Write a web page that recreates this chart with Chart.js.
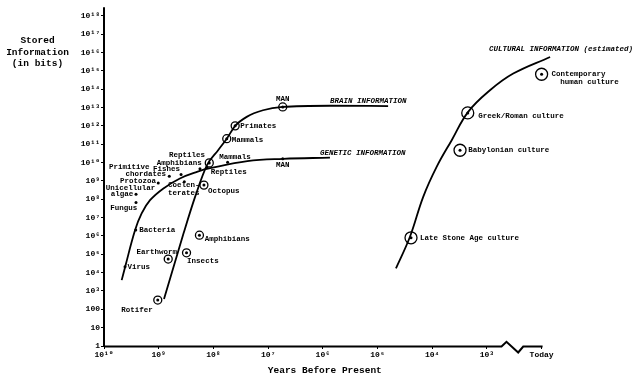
<!DOCTYPE html>
<html>
<head>
<meta charset="utf-8">
<script src="https://cdn.jsdelivr.net/npm/chart.js@4.4.1/dist/chart.umd.min.js"></script>
<style>
html,body{margin:0;padding:0;background:#fff;}
#c{display:block;}
</style>
</head>
<body>
<canvas id="c" width="640" height="380"></canvas>
<script>
// ---------------- DATA ----------------
// Curves (years before present, stored information in bits)
const geneticYears = [4.75e9, 4.1e9, 2.7e9, 2.05e9, 1.44e9, 8.2e8, 4.1e8, 2.0e8, 1.15e8, 2.4e7, 5.3e6, 7.4e5];
const geneticBits  = [3.9e3, 2.1e4, 2.1e6, 1.7e7, 8.9e7, 3.9e8, 1.36e9, 3.1e9, 4.9e9, 1.2e10, 1.6e10, 1.85e10];

const brainYears = [8.0e8, 3.5e8, 2.17e8, 1.31e8, 8.2e7, 5.7e7, 4.0e7, 2.46e7, 1.24e7, 5.4e6, 7.4e5, 6.4e4];
const brainBits  = [363, 1.43e6, 1.3e8, 7.2e9, 4.7e10, 2.0e11, 1.0e12, 3.1e12, 7.1e12, 1.08e13, 1.25e13, 1.2e13];

const culturalYears = [4.6e4, 2.55e4, 1.46e4, 8.3e3, 4.4e3, 2.2e3, 880, 330, 70];
const culturalBits  = [1.7e4, 9.0e5, 1.35e8, 5.8e9, 1.66e11, 5.8e12, 8.7e13, 7.1e14, 5.7e15];

// Circled data points
const circledNames = ['Rotifer', 'Earthworm', 'Insects', 'Amphibians', 'Octopus', 'Reptiles', 'Mammals', 'Primates', 'MAN',
                      'Late Stone Age culture', 'Babylonian culture', 'Greek/Roman culture', 'Contemporary human culture'];
const circledYears = [1.04e9, 6.7e8, 3.1e8, 1.8e8, 1.49e8, 1.19e8, 5.7e7, 4.0e7, 5.4e6, 2.44e4, 3.1e3, 2.24e3, 100];
const circledBits  = [320, 5.5e4, 1.2e5, 1.1e6, 5.9e8, 9.6e9, 2.0e11, 1.0e12, 1.08e13, 7.9e5, 4.7e10, 5.1e12, 6.5e14];

// Plain dot data points (genetic information)
const dotNames = ['Virus', 'Bacteria', 'Fungus', 'Unicellular algae', 'Protozoa', 'Primitive chordates', 'Fishes',
                  'Coelenterates', 'Amphibians', 'Reptiles', 'Mammals', 'MAN'];
const dotYears = [4.13e9, 2.63e9, 2.6e9, 2.6e9, 1.02e9, 6.4e8, 3.9e8, 3.4e8, 1.76e8, 1.31e8, 5.5e7, 5.4e6];
const dotBits  = [2.1e4, 2.1e6, 6.7e7, 1.9e8, 7.8e8, 1.8e9, 2.25e9, 8.9e8, 4.6e9, 5.3e9, 1.05e10, 1.63e10];

// Tick values and labels
const xTickValues = [1e10, 1e9, 1e8, 1e7, 1e6, 1e5, 1e4, 1e3, 100];
const xTickLabels = ['10\u00b9\u2070', '10\u2079', '10\u2078', '10\u2077', '10\u2076', '10\u2075', '10\u2074', '10\u00b3', 'Today'];
const yTickValues = [1, 10, 100, 1e3, 1e4, 1e5, 1e6, 1e7, 1e8, 1e9, 1e10, 1e11, 1e12, 1e13, 1e14, 1e15, 1e16, 1e17, 1e18];
const yTickLabels = ['1', '10', '100', '10\u00b3', '10\u2074', '10\u2075', '10\u2076', '10\u2077', '10\u2078', '10\u2079',
                     '10\u00b9\u2070', '10\u00b9\u00b9', '10\u00b9\u00b2', '10\u00b9\u00b3', '10\u00b9\u2074', '10\u00b9\u2075',
                     '10\u00b9\u2076', '10\u00b9\u2077', '10\u00b9\u2078'];

const seriesNames = ['GENETIC INFORMATION', 'BRAIN INFORMATION', 'CULTURAL INFORMATION (estimated)'];
const xTitle = 'Years Before Present';
const yTitle = ['Stored', 'Information', '(in bits)'];

// ---------------- LAYOUT / STYLE ----------------
const FONT = "'Liberation Mono', 'DejaVu Sans Mono', monospace";
const circleRadius = [4, 4, 4, 4, 4, 4, 4, 4, 4, 6, 6, 6, 6];
const circledLabelLayout = [
  [['Rotifer', -20.7, 10, 'center']],
  [['Earthworm', -31.8, -6.7, 'left']],
  [['Insects', 0.6, 8.6, 'left']],
  [['Amphibians', 5.4, 4.3, 'left']],
  [['Octopus', 4, 5.7, 'left']],
  [['Reptiles', -4.3, -7.7, 'right']],
  [['Mammals', 5, 1, 'left']],
  [['Primates', 5, 0.3, 'left']],
  [['MAN', 0, -7.6, 'center']],
  [['Late Stone Age culture', 9, 0, 'left']],
  [['Babylonian culture', 8.3, 0, 'left']],
  [['Greek/Roman culture', 10.6, 3.3, 'left']],
  [['Contemporary', 10, 0, 'left'], ['human culture', 18.7, 8.3, 'left']]
];
const dotLabelLayout = [
  [['Virus', 2.5, 0, 'left']],
  [['Bacteria', 3.5, 0, 'left']],
  [['Fungus', 1.3, 5.4, 'right']],
  [['Unicellular', -5.5, -6.3, 'center'], ['algae', -2.7, 0, 'right']],
  [['Protozoa', -2.3, -2, 'right']],
  [['Primitive', -40.1, -8.7, 'center'], ['chordates', -3.3, -2, 'right']],
  [['Fishes', -1, -5, 'right']],
  [['Coelen-', -0.5, 3.5, 'center'], ['terates', -0.5, 11, 'center']],
  [['Amphibians', 1.7, -5.2, 'right']],
  [['Reptiles', 3.7, 4.8, 'left']],
  [['Mammals', -8.4, -4.7, 'left']],
  [['MAN', 0, 6.5, 'center']]
];
// series label offsets relative to last point of each curve
const seriesLabelLayout = [[-10, -4.8], [-58, -5.3], [-61, -7.7]];

const zip = (xs, ys) => xs.map((x, i) => ({x: x, y: ys[i]}));

const smoothLine = {
  showLine: true, borderColor: '#000', borderWidth: 1.8, pointRadius: 0,
  tension: 0.4, clip: false, fill: false
};
const monoLine = Object.assign({}, smoothLine, {cubicInterpolationMode: 'monotone'});

const overlayPlugin = {
  id: 'overlay',
  afterDatasetsDraw(chart) {
    const ctx = chart.ctx;
    const xs = chart.scales.x, ys = chart.scales.y;
    const ca = chart.chartArea;
    ctx.save();
    ctx.fillStyle = '#000';
    ctx.strokeStyle = '#000';

    // Axis lines (with break before "Today")
    ctx.lineWidth = 2;
    ctx.beginPath();
    ctx.moveTo(ca.left, ca.top);
    ctx.lineTo(ca.left, ca.bottom + 1);
    ctx.stroke();
    const p3 = xs.getPixelForValue(1e3), pT = xs.getPixelForValue(100);
    const w = pT - p3, y0 = ca.bottom + 0.5;
    ctx.beginPath();
    ctx.moveTo(ca.left, y0);
    ctx.lineTo(p3 + 0.267 * w, y0);
    ctx.lineTo(p3 + 0.358 * w, y0 - 4.7);
    ctx.lineTo(p3 + 0.572 * w, y0 + 6);
    ctx.lineTo(p3 + 0.664 * w, y0);
    ctx.lineTo(pT + 1, y0);
    ctx.stroke();

    // Point labels
    ctx.font = 'bold 7.5px ' + FONT;
    ctx.textBaseline = 'middle';
    const drawLabels = (years, bits, layout) => {
      years.forEach((yr, i) => {
        const px = xs.getPixelForValue(yr), py = ys.getPixelForValue(bits[i]);
        layout[i].forEach(([t, dx, dy, al]) => {
          ctx.textAlign = al;
          ctx.fillText(t, px + dx, py + dy);
        });
      });
    };
    drawLabels(circledYears, circledBits, circledLabelLayout);
    drawLabels(dotYears, dotBits, dotLabelLayout);

    // Series labels
    ctx.font = 'italic bold 7.5px ' + FONT;
    ctx.textAlign = 'left';
    const ends = [
      [geneticYears[geneticYears.length - 1], geneticBits[geneticBits.length - 1]],
      [brainYears[brainYears.length - 1], brainBits[brainBits.length - 1]],
      [culturalYears[culturalYears.length - 1], culturalBits[culturalBits.length - 1]]
    ];
    ends.forEach(([yr, b], i) => {
      const px = xs.getPixelForValue(yr), py = ys.getPixelForValue(b);
      ctx.fillText(seriesNames[i], px + seriesLabelLayout[i][0], py + seriesLabelLayout[i][1]);
    });

    // Axis titles
    ctx.font = 'bold 9.5px ' + FONT;
    ctx.textAlign = 'center';
    yTitle.forEach((t, i) => ctx.fillText(t, 37.5, 41 + i * 11.2));
    ctx.fillText(xTitle, (ca.left + ca.right) / 2 + 2, 371);
    ctx.restore();
  }
};

new Chart(document.getElementById('c'), {
  type: 'scatter',
  data: {
    datasets: [
      Object.assign({label: seriesNames[0], data: zip(geneticYears, geneticBits)}, smoothLine),
      Object.assign({label: seriesNames[1], data: zip(brainYears, brainBits)}, monoLine),
      Object.assign({label: seriesNames[2], data: zip(culturalYears, culturalBits)}, smoothLine),
      {
        label: 'circled', data: zip(circledYears, circledBits), showLine: false,
        pointRadius: circleRadius, pointBorderColor: '#000', pointBackgroundColor: 'rgba(0,0,0,0)',
        pointBorderWidth: 1.3, clip: false
      },
      {
        label: 'dots', data: zip(circledYears.concat(dotYears), circledBits.concat(dotBits)), showLine: false,
        pointRadius: 1.5, pointBorderWidth: 0, pointBackgroundColor: '#000', clip: false
      }
    ]
  },
  options: {
    responsive: false,
    animation: false,
    events: [],
    devicePixelRatio: 1,
    layout: {padding: {left: 0, top: 7, right: 98.4, bottom: 0}},
    plugins: {legend: {display: false}, tooltip: {enabled: false}, title: {display: false}},
    scales: {
      x: {
        type: 'logarithmic', min: 100, max: 1e10, reverse: true, bounds: 'data',
        border: {display: false},
        grid: {display: true, drawOnChartArea: false, drawTicks: true, tickLength: 3, color: '#000', lineWidth: 1},
        ticks: {
          color: '#000', font: {family: FONT, size: 8, weight: 'bold'}, padding: 1,
          maxRotation: 0, autoSkip: false,
          callback: (v, i) => xTickLabels[i]
        },
        afterBuildTicks: s => { s.ticks = xTickValues.map(v => ({value: v})); },
        afterFit: s => { s.height = 34; }
      },
      y: {
        type: 'logarithmic', min: 1, max: 2.91e18, bounds: 'data',
        border: {display: false},
        grid: {display: true, drawOnChartArea: false, drawTicks: true, tickLength: 3, color: '#000', lineWidth: 1},
        ticks: {
          color: '#000', font: {family: FONT, size: 8, weight: 'bold'}, padding: 1,
          autoSkip: false,
          callback: (v, i) => yTickLabels[i]
        },
        afterBuildTicks: s => { s.ticks = yTickValues.map(v => ({value: v})); },
        afterFit: s => { s.width = 104; }
      }
    }
  },
  plugins: [overlayPlugin]
});
</script>
</body>
</html>
